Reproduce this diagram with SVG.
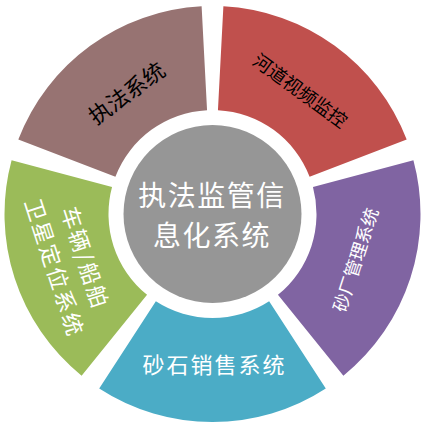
<svg xmlns="http://www.w3.org/2000/svg" width="427" height="427" viewBox="0 0 427 427">
<style>
text{font-family:"Noto Sans CJK SC","Noto Sans",sans-serif;text-anchor:middle}
.dk{fill:#000}
.wt{fill:#fff}
</style>
<rect width="427" height="427" fill="#fff"/>
<g id="seg-zhifa">
<path d="M18.32,139.46 A208,208 0 0 1 201.61,6.28 L207.06,110.14 A104,104 0 0 0 115.41,176.73 Z" fill="#977372"/>
<text class="dk" font-size="22" transform="translate(127,93.5) rotate(-36)" dy="0.35em">执法系统</text>
</g>
<g id="seg-hedao">
<path d="M223.39,6.28 A208,208 0 0 1 406.68,139.46 L309.59,176.73 A104,104 0 0 0 217.94,110.14 Z" fill="#C0504D"/>
<text class="dk" font-size="18.5" transform="translate(300,91) rotate(36)" dy="0.35em">河道视频监控</text>
</g>
<g id="seg-shachang">
<path d="M413.41,160.17 A208,208 0 0 1 343.40,375.65 L277.95,294.82 A104,104 0 0 0 312.96,187.08 Z" fill="#8064A2"/>
<text class="wt" font-size="18" transform="translate(356,260) rotate(-72)" dy="0.35em">砂厂管理系统</text>
</g>
<g id="seg-shashi">
<path d="M325.79,388.44 A208,208 0 0 1 99.21,388.44 L155.86,301.22 A104,104 0 0 0 269.14,301.22 Z" fill="#4BACC6"/>
<text class="wt" font-size="22" letter-spacing="2" x="214.5" y="365" dy="0.35em">砂石销售系统</text>
</g>
<g id="seg-gps">
<path d="M81.60,375.65 A208,208 0 0 1 11.59,160.17 L112.04,187.08 A104,104 0 0 0 147.05,294.82 Z" fill="#9BBB59"/>
<g transform="translate(69,262) rotate(72)">
<text class="wt" font-size="22" letter-spacing="2" x="1" y="-16" dy="0.35em">车辆/船舶</text>
<text class="wt" font-size="22" letter-spacing="2" x="1" y="16" dy="0.35em">卫星定位系统</text>
</g>
</g>
<g id="center">
<circle cx="212.5" cy="214" r="89" fill="#969696"/>
<text class="wt" font-size="28" letter-spacing="1.5" x="212" y="196" dy="0.35em">执法监管信</text>
<text class="wt" font-size="28" letter-spacing="1.5" x="212" y="236" dy="0.35em">息化系统</text>
</g>
<g id="connectors"></g>
</svg>
